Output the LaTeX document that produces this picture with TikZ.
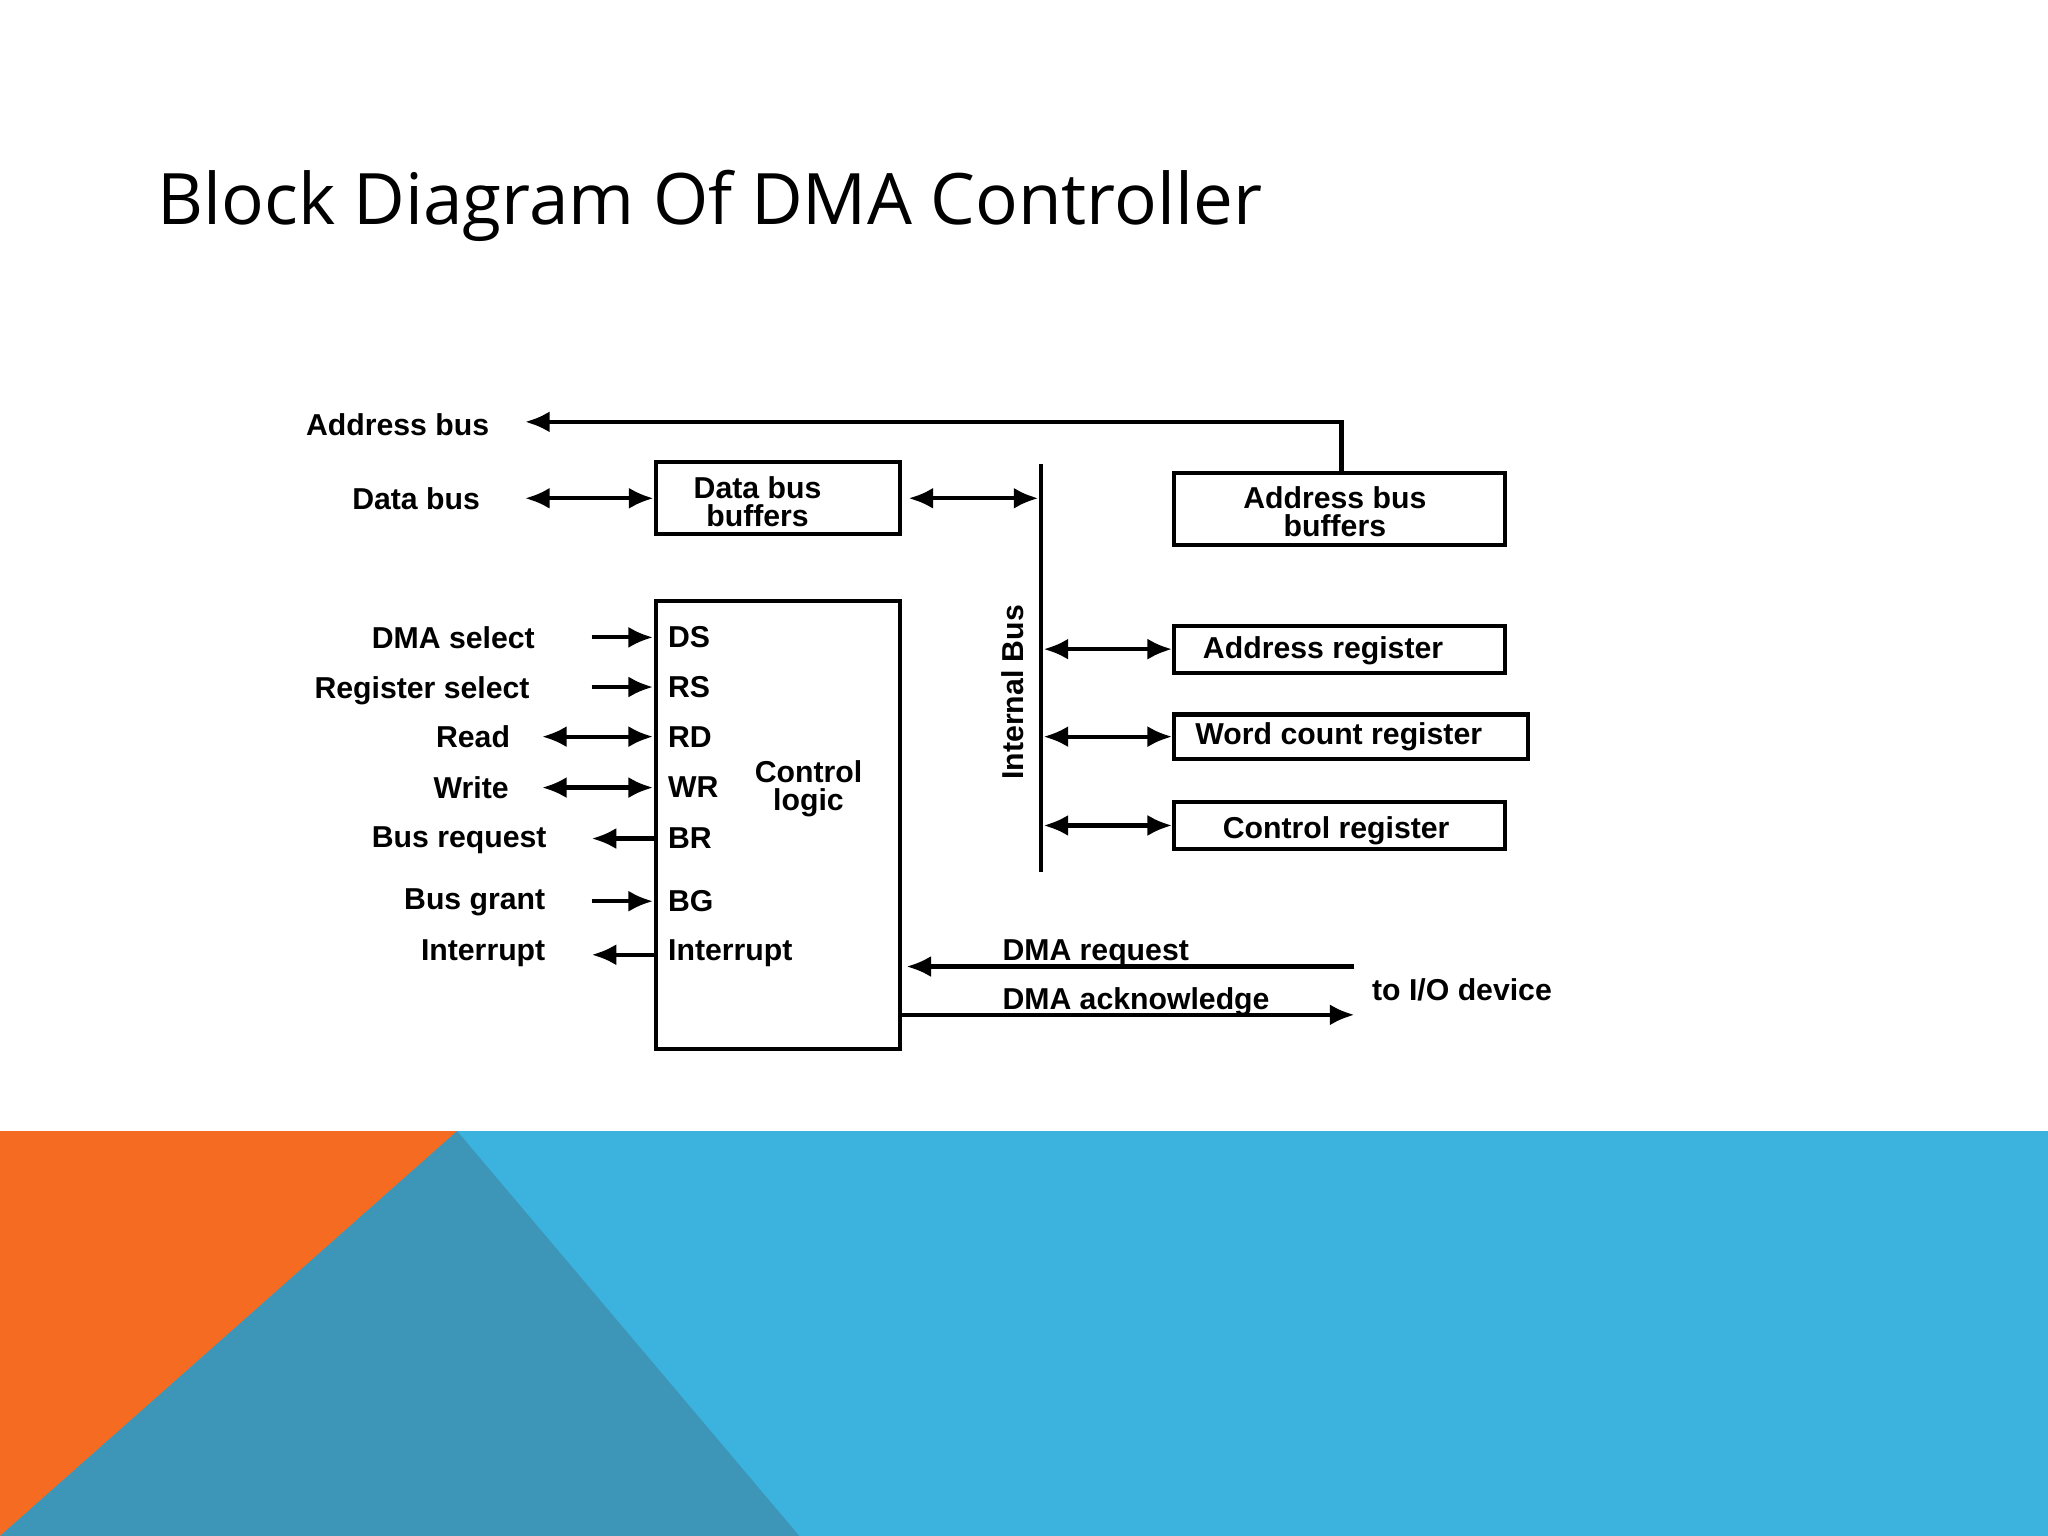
\documentclass[tikz,border=0pt]{standalone}
\usepackage{fontspec}
\setmainfont{Liberation Sans}
\newfontfamily\titlefont{Open Sans}
\usetikzlibrary{arrows.meta}
\definecolor{orangebg}{HTML}{F46B21}
\definecolor{bluebg}{HTML}{3BB3DE}
\definecolor{tealbg}{HTML}{3D96B8}
\begin{document}
\begin{tikzpicture}[x=0.01306cm,y=-0.01306cm,
  wire/.style={line width=1.2pt},
  tip/.style={-{Latex[length=7pt,width=6pt]}},
  dtip/.style={{Latex[length=7pt,width=6pt]}-{Latex[length=7pt,width=6pt]}},
  lbl/.style={font=\bfseries\fontsize{8.6}{9}\selectfont,inner sep=0pt},
  box/.style={draw,line width=1.2pt,inner sep=0pt,lbl,align=center},
  pin/.style={lbl,anchor=west}]
\useasboundingbox (0,0) rectangle (1568,1176);
% background
\fill[bluebg] (0,866) rectangle (1568,1176);
\fill[orangebg] (0,866) -- (350,866) -- (0,1176) -- cycle;
\fill[tealbg] (350,866) -- (612,1176) -- (0,1176) -- cycle;
\node[anchor=west,inner sep=0pt,font=\titlefont\fontsize{20.2}{22}\selectfont] (title) at (120,158) {Block Diagram Of DMA Controller};

% boxes
\node[box,minimum width=187*0.01306cm,minimum height=55*0.01306cm] (dbb) at (595.5,381.5) {};
\node[lbl,align=center] at (580,384) {Data bus\\[-1pt]buffers};
\node[box,minimum width=253*0.01306cm,minimum height=55*0.01306cm] (abb) at (1025.5,389.5) {};
\node[lbl,align=center] at (1022,392) {Address bus\\[-1pt]buffers};
\node[box,minimum width=253*0.01306cm,minimum height=36*0.01306cm] (areg) at (1025.5,497) {};
\node[lbl] at (1013,498) {Address register};
\node[box,minimum width=271*0.01306cm,minimum height=34*0.01306cm] (wreg) at (1034.5,564) {};
\node[lbl] at (1025,564) {Word count register};
\node[box,minimum width=253*0.01306cm,minimum height=36*0.01306cm] (creg) at (1025.5,632) {};
\node[lbl] at (1023,636) {Control register};
\node[box,minimum width=187*0.01306cm,minimum height=343*0.01306cm] (cl) at (595.5,631.5) {};
\node[lbl,align=center] at (619,604) {Control\\[-1pt]logic};

% internal bus
\coordinate (ibT) at (797,355); \coordinate (ibB) at (797,668);
\draw[wire] (ibT) -- (ibB);
\node[lbl,rotate=90] at (775,530) {Internal Bus};

% buses
\node[lbl,anchor=east] (abus) at (375,325) {Address bus};
\draw[wire,tip] (abb.north -| 1027,0) -- (1027,323) -- (402,323);
\node[lbl,anchor=east] (dbus) at (368,382) {Data bus};
\draw[wire,dtip] (402,381.5) -- (dbb.west);
\draw[wire,dtip] (dbb.east) ++(5,0) -- (795,381.5);
\draw[wire,dtip] (799,497) -- (areg.west);
\draw[wire,dtip] (799,564) -- (wreg.west);
\draw[wire,dtip] (799,632) -- (creg.west);

% pins
\foreach \t/\y in {DS/488,RS/526,RD/564,WR/603,BR/642,BG/690,Interrupt/730}
  \node[pin] at (511,\y) {\t};
\node[lbl,anchor=east] at (410,488) {DMA select};
\node[lbl,anchor=east] at (406,529) {Register select};
\node[lbl,anchor=east] at (391,564) {Read};
\node[lbl,anchor=east] at (390,603) {Write};
\node[lbl,anchor=east] at (419,643) {Bus request};
\node[lbl,anchor=east] at (418,691) {Bus grant};
\node[lbl,anchor=east] at (418,730) {Interrupt};
\draw[wire,tip] (453,488) -- (500,488);
\draw[wire,tip] (453,526) -- (500,526);
\draw[wire,dtip] (415,564) -- (500,564);
\draw[wire,dtip] (415,603) -- (500,603);
\draw[wire,tip] (502,642) -- (453,642);
\draw[wire,tip] (453,690) -- (500,690);
\draw[wire,tip] (502,731) -- (453,731);

% I/O
\draw[wire,tip] (1037,740) -- (694,740);
\node[lbl,anchor=south west] at (767,741) {DMA request};
\draw[wire,tip] (689,777) -- (1037,777);
\node[lbl,anchor=south west] at (767,778) {DMA acknowledge};
\node[lbl,anchor=west] at (1050,758) {to I/O device};
\end{tikzpicture}
\end{document}
